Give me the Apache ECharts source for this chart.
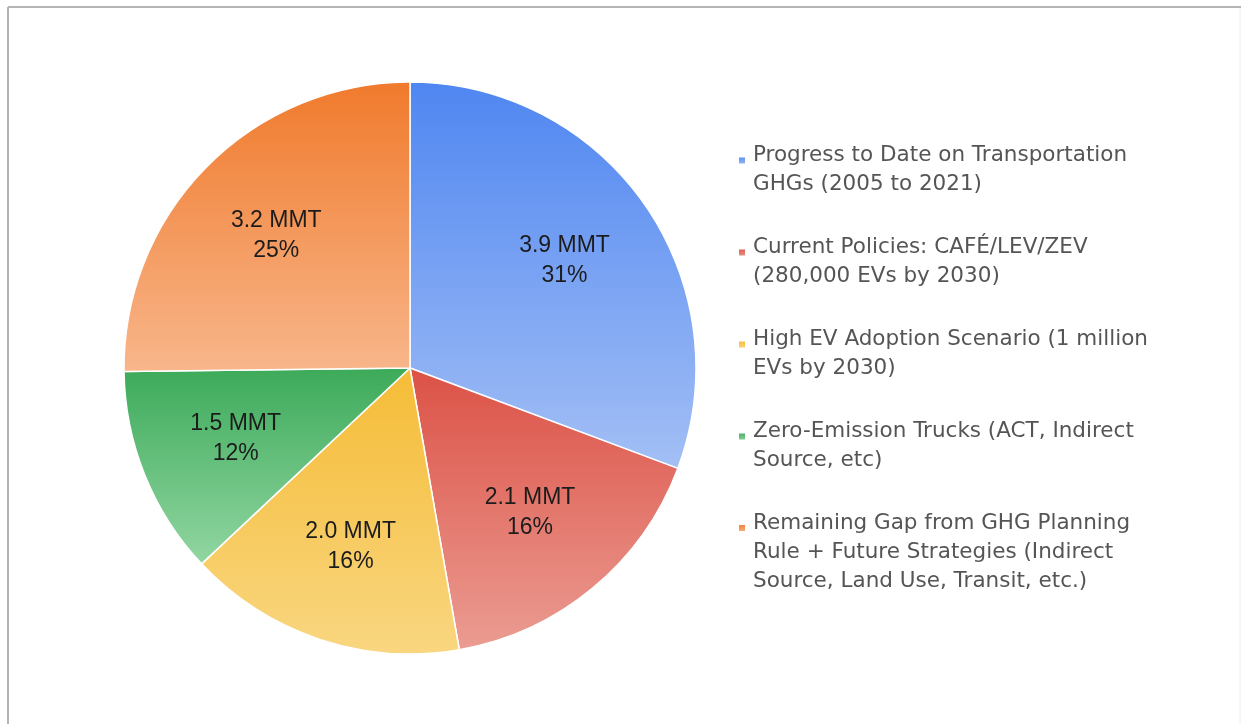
<!DOCTYPE html>
<html>
<head>
<meta charset="utf-8">
<style>
  html, body { margin: 0; padding: 0; background: #fff; }
  #chart { width: 1249px; height: 724px; }
</style>
<script src="https://cdn.jsdelivr.net/npm/echarts@6/dist/echarts.min.js"></script>
</head>
<body>
<div id="chart"></div>
<script>
var categories = [
  'Progress to Date on Transportation\nGHGs (2005 to 2021)',
  'Current Policies: CAFÉ/LEV/ZEV\n(280,000 EVs by 2030)',
  'High EV Adoption Scenario (1 million\nEVs by 2030)',
  'Zero-Emission Trucks (ACT, Indirect\nSource, etc)',
  'Remaining Gap from GHG Planning\nRule + Future Strategies (Indirect\nSource, Land Use, Transit, etc.)'
];
var values = [3.9, 2.1, 2.0, 1.5, 3.2];
var percents = ['31%', '16%', '16%', '12%', '25%'];
// gradient colours, top -> bottom of each slice
var topColors = ['#4f86f1', '#dc5146', '#f5bc36', '#3caa59', '#f07a2c'];
var bottomColors = ['#a3bff5', '#eb9c92', '#f9d680', '#92d6a2', '#f8b68b'];

var chart = echarts.init(document.getElementById('chart'));

var pieData = values.map(function (v, i) {
  return {
    name: categories[i],
    value: v,
    itemStyle: {
      color: new echarts.graphic.LinearGradient(0, 0, 0, 1, [
        { offset: 0, color: topColors[i] },
        { offset: 1, color: bottomColors[i] }
      ])
    }
  };
});

var labelData = values.map(function (v, i) {
  return { name: categories[i], value: v };
});

// legend text: a spacer line on top so the marker sits by the first line
function legendFormatter(name) {
  var lines = name.split('\n');
  return '{s| }\n' + lines.map(function (l) { return '{t|' + l + '}'; }).join('\n');
}

function legendStyle(spacer) {
  return {
    rich: {
      s: { fontSize: 10, lineHeight: spacer },
      t: {
        fontFamily: 'DejaVu Sans',
        fontSize: 21.5,
        lineHeight: 29,
        color: '#555555',
        padding: [0, 0, 0, 2]
      }
    }
  };
}

chart.setOption({
  animation: false,
  graphic: [
    { type: 'line', shape: { x1: 8, y1: 7, x2: 1241, y2: 7 }, style: { stroke: '#b4b4b4', lineWidth: 2 } },
    { type: 'line', shape: { x1: 8, y1: 7, x2: 8, y2: 724 }, style: { stroke: '#b4b4b4', lineWidth: 2 } },
    { type: 'line', shape: { x1: 1240, y1: 8, x2: 1240, y2: 724 }, style: { stroke: '#eeeeee', lineWidth: 1 } }
  ],
  legend: [
    {
      orient: 'vertical',
      left: 737,
      top: 126.5,
      padding: 0,
      itemWidth: 8,
      itemHeight: 8,
      itemGap: 23,
      icon: 'rect',
      selectedMode: false,
      data: categories.slice(0, 4),
      formatter: legendFormatter,
      textStyle: legendStyle(19)
    },
    {
      orient: 'vertical',
      left: 737,
      top: 479.5,
      padding: 0,
      itemWidth: 8,
      itemHeight: 8,
      icon: 'rect',
      selectedMode: false,
      data: categories.slice(4),
      formatter: legendFormatter,
      textStyle: legendStyle(48)
    }
  ],
  series: [
    {
      type: 'pie',
      center: [410, 368],
      radius: [0, 286],
      startAngle: 90,
      clockwise: true,
      silent: true,
      label: { show: false },
      labelLine: { show: false },
      itemStyle: { borderColor: '#ffffff', borderWidth: 1.5 },
      data: pieData
    },
    {
      // transparent ring, only carries the value labels
      type: 'pie',
      center: [410, 368],
      radius: [84, 286],
      startAngle: 90,
      clockwise: true,
      silent: true,
      itemStyle: { color: 'rgba(0,0,0,0)' },
      label: {
        show: true,
        position: 'inside',
        fontFamily: 'Liberation Sans',
        fontSize: 23,
        lineHeight: 30,
        color: '#1c1c1c',
        formatter: function (p) {
          return p.value.toFixed(1) + ' MMT\n' + percents[p.dataIndex];
        }
      },
      labelLine: { show: false },
      data: labelData
    }
  ]
});
</script>
</body>
</html>
